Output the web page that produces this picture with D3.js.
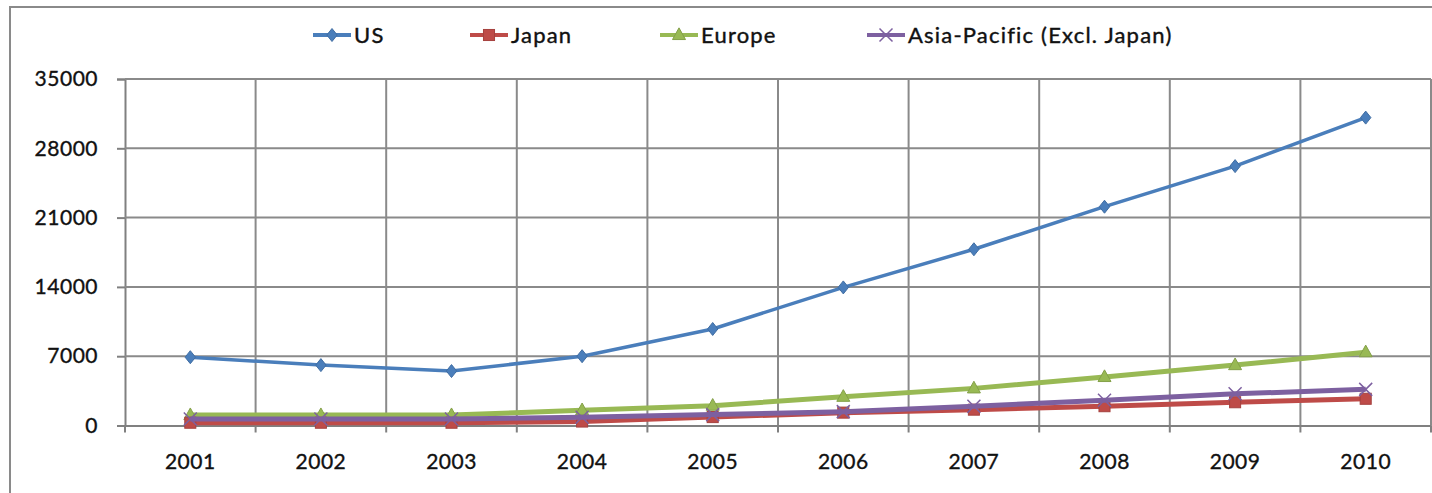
<!DOCTYPE html>
<html>
<head>
<meta charset="utf-8">
<script src="https://cdn.jsdelivr.net/npm/d3@7"></script>
<style>
  body { margin: 0; background: #fff; }
  svg text { font-family: "Lato", "Open Sans", sans-serif; }
</style>
</head>
<body>
<div id="chart"></div>
<script>
// data
const years = ["2001","2002","2003","2004","2005","2006","2007","2008","2009","2010"];
const usVals     = [6900, 6100, 5500, 7000, 9750, 13950, 17800, 22100, 26200, 31100];
const japanVals  = [280, 280, 280, 400, 850, 1300, 1600, 1950, 2350, 2700];
const europeVals = [1050, 1050, 1050, 1550, 2000, 2900, 3750, 4900, 6100, 7400];
const asiaVals   = [650, 650, 650, 830, 1100, 1400, 1950, 2550, 3200, 3650];
const yTicks = [0, 7000, 14000, 21000, 28000, 35000];

const series = [
  { name: "US", values: usVals, color: "#4a7ebb", marker: "diamond", width: 3.5 },
  { name: "Japan", values: japanVals, color: "#be4b48", marker: "square", width: 5 },
  { name: "Europe", values: europeVals, color: "#98b954", marker: "triangle", width: 5 },
  { name: "Asia-Pacific (Excl. Japan)", values: asiaVals, color: "#7d60a0", marker: "cross", width: 5 }
];

const W = 1432, H = 493;
const plot = { left: 125, right: 1431, top: 79, bottom: 425.5 };

const svg = d3.select("#chart").append("svg")
  .attr("width", W).attr("height", H);

// outer frame
svg.append("rect")
  .attr("x", 10).attr("y", 7)
  .attr("width", W).attr("height", H)
  .attr("fill", "none").attr("stroke", "#8a8a8a").attr("stroke-width", 2);

const x = d3.scaleBand().domain(years).range([plot.left, plot.right]).padding(0);
const y = d3.scaleLinear().domain([0, 35000]).range([plot.bottom, plot.top]);

// y axis
const yAxis = svg.append("g")
  .attr("transform", `translate(${plot.left},0)`)
  .call(d3.axisLeft(y).tickValues(yTicks).tickSize(8).tickPadding(19).tickFormat(d3.format("d")));
yAxis.select(".domain").attr("stroke", "#808080").attr("stroke-width", 2);
yAxis.selectAll(".tick line").attr("stroke", "#808080").attr("stroke-width", 2);
yAxis.selectAll(".tick text")
  .attr("font-size", 21).attr("fill", "#111").attr("letter-spacing", 0.5)
  .attr("stroke", "#111").attr("stroke-width", 0.35);

// horizontal gridlines
svg.append("g").selectAll("line")
  .data(yTicks.filter(d => d > 0))
  .enter().append("line")
  .attr("x1", plot.left).attr("x2", plot.right)
  .attr("y1", d => y(d)).attr("y2", d => y(d))
  .attr("stroke", "#8a8a8a").attr("stroke-width", 2);

// vertical gridlines at category borders
const borders = years.slice(1).map(d => x(d)).concat([plot.right]);
svg.append("g").selectAll("line")
  .data(borders)
  .enter().append("line")
  .attr("x1", d => d).attr("x2", d => d)
  .attr("y1", plot.top).attr("y2", plot.bottom)
  .attr("stroke", "#8a8a8a").attr("stroke-width", 2);

// x axis
const xAxis = svg.append("g")
  .attr("transform", `translate(0,${plot.bottom})`)
  .call(d3.axisBottom(x).tickSize(0).tickPadding(29));
xAxis.select(".domain").attr("stroke", "#808080").attr("stroke-width", 2);
xAxis.selectAll(".tick text")
  .attr("font-size", 21).attr("fill", "#111").attr("letter-spacing", 0.5)
  .attr("stroke", "#111").attr("stroke-width", 0.35);
svg.append("g").selectAll("line")
  .data([plot.left].concat(borders))
  .enter().append("line")
  .attr("x1", d => d).attr("x2", d => d)
  .attr("y1", plot.bottom).attr("y2", plot.bottom + 7)
  .attr("stroke", "#808080").attr("stroke-width", 2);

function drawMarker(g, type, cx, cy, color, s) {
  if (type === "diamond") {
    g.append("path")
      .attr("d", `M${cx},${cy - s}L${cx + s * 0.8},${cy}L${cx},${cy + s}L${cx - s * 0.8},${cy}Z`)
      .attr("fill", color).attr("stroke", d3.color(color).darker(0.4)).attr("stroke-width", 1);
  } else if (type === "square") {
    g.append("rect")
      .attr("x", cx - s * 0.85).attr("y", cy - s * 0.85)
      .attr("width", s * 1.7).attr("height", s * 1.7)
      .attr("fill", color).attr("stroke", d3.color(color).darker(0.4)).attr("stroke-width", 1);
  } else if (type === "triangle") {
    g.append("path")
      .attr("d", `M${cx},${cy - s * 1.1}L${cx + s},${cy + s * 0.7}L${cx - s},${cy + s * 0.7}Z`)
      .attr("fill", color).attr("stroke", d3.color(color).darker(0.4)).attr("stroke-width", 1);
  } else {
    g.append("path")
      .attr("d", `M${cx - s},${cy - s}L${cx + s},${cy + s}M${cx - s},${cy + s}L${cx + s},${cy - s}`)
      .attr("stroke", color).attr("stroke-width", 1.5).attr("fill", "none");
  }
}

const line = d3.line()
  .x((d, i) => x(years[i]) + x.bandwidth() / 2)
  .y(d => y(d));

// draw order so Asia-Pacific sits above Japan
const drawOrder = [series[2], series[1], series[3], series[0]];
drawOrder.forEach(s => {
  const g = svg.append("g");
  g.append("path")
    .datum(s.values)
    .attr("d", line)
    .attr("fill", "none")
    .attr("stroke", s.color)
    .attr("stroke-width", s.width)
    .attr("stroke-linejoin", "round");
  s.values.forEach((v, i) => {
    drawMarker(g, s.marker, x(years[i]) + x.bandwidth() / 2, y(v), s.color, 6.5);
  });
});

// legend
const legendX = [313, 470, 660, 867];
const legend = svg.append("g");
series.forEach((s, i) => {
  const lg = legend.append("g");
  const lx = legendX[i], ly = 35;
  lg.append("line")
    .attr("x1", lx).attr("x2", lx + 38)
    .attr("y1", ly).attr("y2", ly)
    .attr("stroke", s.color).attr("stroke-width", 4);
  drawMarker(lg, s.marker, lx + 19, ly, s.color, 6.5);
  lg.append("text")
    .attr("x", lx + 41).attr("y", ly + 8)
    .attr("font-size", 22)
    .attr("letter-spacing", 1.2)
    .attr("fill", "#111")
    .attr("stroke", "#111").attr("stroke-width", 0.4)
    .text(s.name);
});
</script>
</body>
</html>
